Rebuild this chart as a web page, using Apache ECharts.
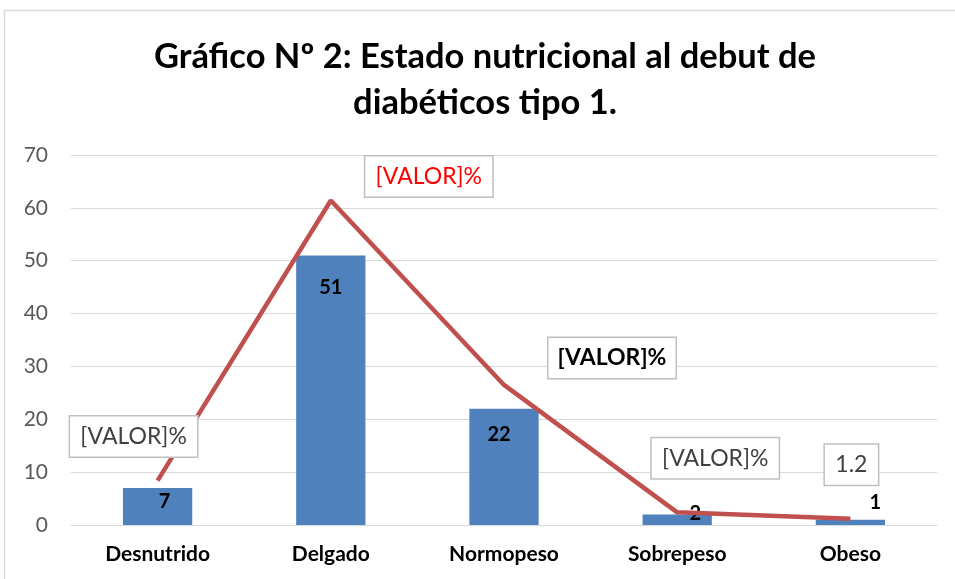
<!DOCTYPE html>
<html>
<head>
<meta charset="utf-8">
<script src="https://cdn.jsdelivr.net/npm/echarts@6/dist/echarts.min.js"></script>
<style>html,body{margin:0;padding:0;background:#fff}#c{width:955px;height:579px}</style>
</head>
<body>
<div id="c"></div>
<script>
const titleText = 'Gráfico Nº 2: Estado nutricional al debut de\ndiabéticos tipo 1.';
const categories = ['Desnutrido', 'Delgado', 'Normopeso', 'Sobrepeso', 'Obeso'];
const counts = [7, 51, 22, 2, 1];
const percents = [8.4, 61.4, 26.5, 2.4, 1.2];
const percentLabels = ['[VALOR]%', '[VALOR]%', '[VALOR]%', '[VALOR]%', null];
const yTicks = [0, 10, 20, 30, 40, 50, 60, 70];

const FONT = 'Lato, "Open Sans", sans-serif';

// label placement tweaks (offsets in px)
const barLabelOffsets = [[7, -1], [0, 17], [-5, 11], [18, -16], [25, -32]];
const lineLabelOffsets = [[-24, -44], [98, -24], [108, -27], [38, -54], [1, -54]];
const lineLabelStyles = [
  { color: '#404040', fontWeight: 'normal' },
  { color: '#ff0000', fontWeight: 'normal' },
  { color: '#000000', fontWeight: 'bold' },
  { color: '#404040', fontWeight: 'normal' },
  { color: '#404040', fontWeight: 'normal' }
];

const chart = echarts.init(document.getElementById('c'), null, { renderer: 'canvas' });

const barData = counts.map((v, i) => ({
  value: v,
  label: { offset: barLabelOffsets[i] }
}));

const lineData = percents.map((v, i) => {
  const isShort = percentLabels[i] === null;
  return {
    value: v,
    label: Object.assign({
      offset: lineLabelOffsets[i],
      width: isShort ? 37 : 111,
      height: 26,
      lineHeight: 26,
      padding: [7, 8]
    }, lineLabelStyles[i])
  };
});

chart.setOption({
  animation: false,
  backgroundColor: '#ffffff',
  graphic: [{
    type: 'rect',
    shape: { x: 4.5, y: 10.5, width: 1000, height: 1000 },
    style: { fill: 'none', stroke: '#d9d9d9', lineWidth: 1.5 },
    z: -1
  }],
  title: {
    text: titleText,
    left: 480,
    textAlign: 'center',
    top: 29,
    textStyle: {
      fontFamily: FONT,
      fontSize: 34.5,
      fontWeight: 'bold',
      color: '#000000',
      lineHeight: 46
    }
  },
  grid: { left: 71, right: 18, top: 155, bottom: 54, containLabel: false },
  xAxis: {
    type: 'category',
    data: categories,
    axisLine: { show: true, lineStyle: { color: '#d9d9d9', width: 1 } },
    axisTick: { show: false },
    axisLabel: {
      margin: 19,
      fontFamily: FONT,
      fontSize: 21,
      fontWeight: 'bold',
      color: '#000000'
    }
  },
  yAxis: {
    type: 'value',
    min: yTicks[0],
    max: yTicks[yTicks.length - 1],
    interval: 10,
    axisLine: { show: false },
    axisTick: { show: false },
    splitLine: { lineStyle: { color: '#d9d9d9', width: 1 } },
    axisLabel: {
      margin: 23,
      fontFamily: FONT,
      fontSize: 21,
      color: '#595959'
    }
  },
  series: [
    {
      name: 'Casos',
      type: 'bar',
      data: barData,
      barWidth: '40%',
      itemStyle: { color: '#4f81bd' },
      label: {
        show: true,
        position: 'insideTop',
        fontFamily: FONT,
        fontSize: 20,
        fontWeight: 'bold',
        color: '#000000'
      },
      z: 2
    },
    {
      name: 'Porcentaje',
      type: 'line',
      data: lineData,
      symbol: 'circle',
      symbolSize: 1,
      showSymbol: true,
      itemStyle: { color: 'rgba(192,80,77,0)' },
      lineStyle: { color: '#c0504d', width: 4.5 },
      z: 3,
      label: {
        show: true,
        position: 'inside',
        align: 'center',
        verticalAlign: 'middle',
        fontFamily: FONT,
        fontSize: 23,
        backgroundColor: '#ffffff',
        borderColor: '#bfbfbf',
        borderWidth: 1.5,
        formatter: p => percentLabels[p.dataIndex] !== null ? percentLabels[p.dataIndex] : String(p.value)
      }
    }
  ]
});
</script>
</body>
</html>
